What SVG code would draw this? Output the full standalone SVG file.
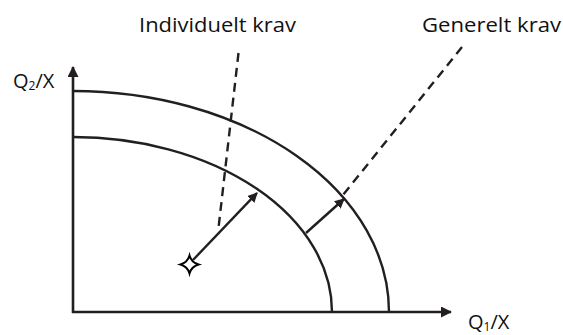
<svg xmlns="http://www.w3.org/2000/svg" width="563" height="335" viewBox="0 0 563 335">
<style>
.ln{fill:none;stroke:#231f20;stroke-width:2.4}
.ax{fill:none;stroke:#231f20;stroke-width:2.6}
.dash{fill:none;stroke:#231f20;stroke-width:2.4;stroke-dasharray:9 6}
.t{font-family:"Open Sans","Noto Sans","Liberation Sans",sans-serif;font-size:20px;fill:#111}
.sub{font-size:12px}
</style>
<defs>
<marker id="ah" markerWidth="10" markerHeight="10" refX="9" refY="5" orient="auto" markerUnits="userSpaceOnUse">
<path d="M0,0 L10,5 L0,10 Z" fill="#231f20"/>
</marker>
<marker id="axh" markerWidth="11" markerHeight="11" refX="10" refY="5.5" orient="auto" markerUnits="userSpaceOnUse">
<path d="M0,0 L11,5.5 L0,11 Z" fill="#231f20"/>
</marker>
</defs>
<g id="axes">
<line class="ax" x1="73" y1="313" x2="73" y2="67" marker-end="url(#axh)"/>
<line class="ax" x1="72" y1="312" x2="451" y2="312" marker-end="url(#axh)"/>
</g>
<g id="curves">
<path id="inner-curve" class="ln" d="M73,137 A259,175 0 0 1 332,312"/>
<path id="outer-curve" class="ln" d="M73,91 A316,221 0 0 1 389,312"/>
</g>
<g id="connectors">
<line class="dash" x1="238.5" y1="53" x2="218.5" y2="228"/>
<line class="dash" x1="462" y1="47" x2="343" y2="195"/>
<line class="ln" x1="193" y1="260" x2="257" y2="193" marker-end="url(#ah)"/>
<line class="ln" x1="306" y1="233" x2="344" y2="199" marker-end="url(#ah)"/>
</g>
<g id="point">
<path d="M189.5,255.5 Q191.5,262.5 198.5,264.5 Q191.5,266.5 189.5,273.5 Q187.5,266.5 180.5,264.5 Q187.5,262.5 189.5,255.5 Z" fill="#fff" stroke="#000" stroke-width="2"/>
</g>
<g id="labels">
<text class="t" x="139" y="32" textLength="157" lengthAdjust="spacingAndGlyphs">Individuelt krav</text>
<text class="t" x="422" y="32" textLength="139" lengthAdjust="spacingAndGlyphs">Generelt krav</text>
<text class="t" x="13" y="88">Q<tspan class="sub" dy="2">2</tspan><tspan dy="-2">/X</tspan></text>
<text class="t" x="468" y="329">Q<tspan class="sub" dy="2">1</tspan><tspan dy="-2">/X</tspan></text>
</g>
</svg>
